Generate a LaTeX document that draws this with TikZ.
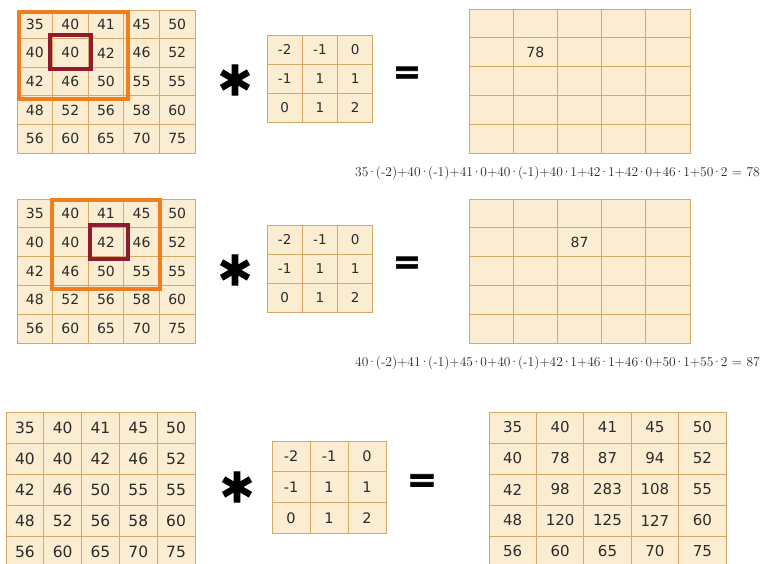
\documentclass[tikz,border=0pt]{standalone}
\usepackage{fontspec}
\newfontfamily\cellfont{DejaVu Sans}
\newfontfamily\opfont[FakeBold=2]{DejaVu Sans Bold}
\definecolor{cellfill}{HTML}{FAEDD2}
\definecolor{cellline}{HTML}{D3A965}
\definecolor{celltext}{HTML}{2B2B2B}
\definecolor{winorange}{HTML}{F07D1E}
\definecolor{windark}{HTML}{8E1B2E}
\newcommand\md{\kern-1.4pt·\kern-1.4pt}
\tikzset{
  cell/.style={draw=cellline, line width=0.9pt, fill=cellfill, text=celltext, inner sep=0pt},
  win/.style={draw=winorange, line width=3.5pt},
  focus/.style={draw=windark, line width=3.5pt},
  op/.style={inner sep=0pt, text=black},
  formula/.style={anchor=east, inner sep=0pt, text=black!85, font=\fontsize{13.5}{14}\selectfont}
}
\newcommand\mygrid[7]{%
  \foreach \rowlist [count=\r] in {#7} {
    \foreach \v [count=\c] in \rowlist {
      \node[cell, minimum width=#4pt, minimum height=#5pt, font=\cellfont\fontsize{#6}{#6}\selectfont]
        (#1-\r-\c) at ({#2+(\c-0.5)*#4}, {#3+(\r-0.5)*#5}) {\v};
    }
  }
}
\begin{document}
\begin{tikzpicture}[x=1pt, y=-1pt]
\useasboundingbox (0,0) rectangle (761,564);
\clip (0,0) rectangle (761,564);
% ---------- row 1 ----------
\mygrid{inA}{17}{10}{35.6}{28.6}{14}{{35,40,41,45,50},{40,40,42,46,52},{42,46,50,55,55},{48,52,56,58,60},{56,60,65,70,75}}
\draw[win] (19,12) rectangle (128,99);
\draw[focus] (50,35) rectangle (91,69);
\node[op, font=\opfont\fontsize{48}{48}\selectfont] (astA) at (235,80) {∗};
\mygrid{kA}{267}{35}{35.3}{29}{13.5}{{-2,-1,0},{-1,1,1},{0,1,2}}
\node[op, font=\opfont\fontsize{34}{34}\selectfont] (eqA) at (407,75) {=};
\mygrid{outA}{469}{9}{44.2}{28.8}{14}{{,,,,},{,78,,,},{,,,,},{,,,,},{,,,,}}
\node[formula] (fA) at (760,173) {35\md(-2)+40\md(-1)+41\md0+40\md(-1)+40\md1+42\md1+42\md0+46\md1+50\md2 = 78};
% ---------- row 2 ----------
\mygrid{inB}{17}{199}{35.6}{28.8}{14}{{35,40,41,45,50},{40,40,42,46,52},{42,46,50,55,55},{48,52,56,58,60},{56,60,65,70,75}}
\draw[win] (52,200) rectangle (160,289);
\draw[focus] (90,225) rectangle (128,259);
\node[op, font=\opfont\fontsize{48}{48}\selectfont] (astB) at (235,270) {∗};
\mygrid{kB}{267}{225}{35.3}{29}{13.5}{{-2,-1,0},{-1,1,1},{0,1,2}}
\node[op, font=\opfont\fontsize{34}{34}\selectfont] (eqB) at (407,265) {=};
\mygrid{outB}{469}{199}{44.2}{28.8}{14}{{,,,,},{,,87,,},{,,,,},{,,,,},{,,,,}}
\node[formula] (fB) at (760,363) {40\md(-2)+41\md(-1)+45\md0+40\md(-1)+42\md1+46\md1+46\md0+50\md1+55\md2 = 87};
% ---------- row 3 ----------
\mygrid{inC}{6}{412}{37.8}{31}{15.5}{{35,40,41,45,50},{40,40,42,46,52},{42,46,50,55,55},{48,52,56,58,60},{56,60,65,70,75}}
\node[op, font=\opfont\fontsize{48}{48}\selectfont] (astC) at (237,487) {∗};
\mygrid{kC}{272}{441}{38}{30.7}{14.5}{{-2,-1,0},{-1,1,1},{0,1,2}}
\node[op, font=\opfont\fontsize{36}{36}\selectfont] (eqC) at (422,483) {=};
\mygrid{outC}{489}{412}{47.4}{31}{15}{{35,40,41,45,50},{40,78,87,94,52},{42,98,283,108,55},{48,120,125,127,60},{56,60,65,70,75}}
\end{tikzpicture}
\end{document}
